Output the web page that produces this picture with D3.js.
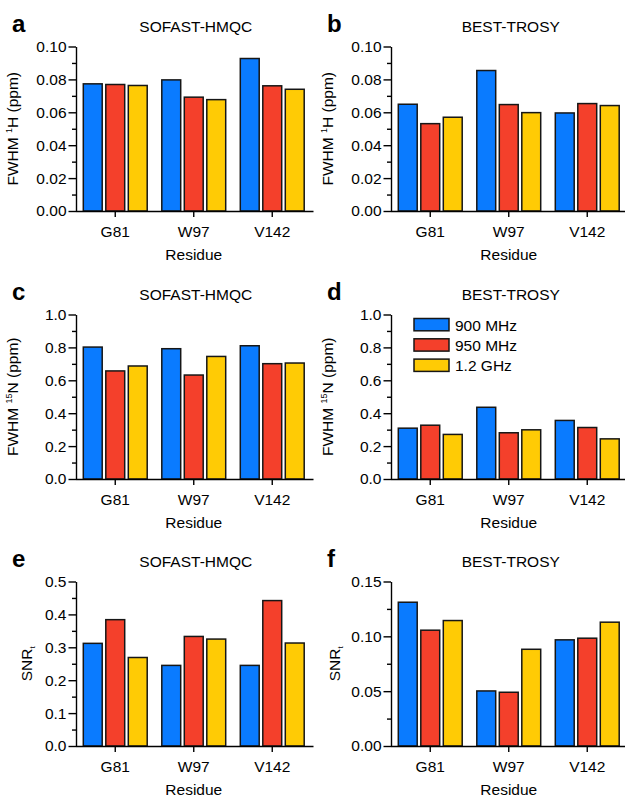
<!DOCTYPE html>
<html>
<head>
<meta charset="utf-8">
<script src="https://cdn.jsdelivr.net/npm/d3@7/dist/d3.min.js"></script>
<style>
  html, body { margin: 0; padding: 0; background: #fff; }
  svg { display: block; }
  text { font-family: "Liberation Sans", Arial, Helvetica, sans-serif; fill: #000; }
</style>
</head>
<body>
<svg id="chart" width="625" height="797"></svg>
<script>
// ---------------- DATA ----------------
const residues = ["G81", "W97", "V142"];
const fields = ["900 MHz", "950 MHz", "1.2 GHz"];

// values grouped by residue: [900 MHz, 950 MHz, 1.2 GHz]
const sofastFwhmH = [[0.0773, 0.0769, 0.0763], [0.0797, 0.0692, 0.0677], [0.0927, 0.0761, 0.0740]];
const bestFwhmH   = [[0.0649, 0.0531, 0.0570], [0.0854, 0.0647, 0.0598], [0.0596, 0.0653, 0.0641]];
const sofastFwhmN = [[0.802, 0.657, 0.687], [0.792, 0.632, 0.745], [0.810, 0.701, 0.705]];
const bestFwhmN   = [[0.309, 0.327, 0.271], [0.436, 0.281, 0.299], [0.356, 0.313, 0.244]];
const sofastSnr   = [[0.312, 0.384, 0.269], [0.245, 0.333, 0.325], [0.245, 0.442, 0.313]];
const bestSnr     = [[0.1311, 0.1056, 0.1144], [0.0502, 0.0490, 0.0882], [0.0968, 0.0983, 0.1129]];

const ticksFwhmH = [0, 0.02, 0.04, 0.06, 0.08, 0.10];
const minorFwhmH = [0.01, 0.03, 0.05, 0.07, 0.09];
const ticksFwhmN = [0, 0.2, 0.4, 0.6, 0.8, 1.0];
const minorFwhmN = [0.1, 0.3, 0.5, 0.7, 0.9];
const ticksSnrS  = [0, 0.1, 0.2, 0.3, 0.4, 0.5];
const minorSnrS  = [0.05, 0.15, 0.25, 0.35, 0.45];
const ticksSnrB  = [0, 0.05, 0.10, 0.15];
const minorSnrB  = [0.025, 0.075, 0.125];

const panelLetters = ["a", "b", "c", "d", "e", "f"];
const panelTitles = ["SOFAST-HMQC", "BEST-TROSY", "SOFAST-HMQC", "BEST-TROSY", "SOFAST-HMQC", "BEST-TROSY"];

// ---------------- STYLE ----------------
const colors = ["#0a7bff", "#f4402b", "#ffcb05"];
const FONT = 15.5;

const svg = d3.select("#chart");

const panels = [
  {data: sofastFwhmH, max: 0.10, ticks: ticksFwhmH, minor: minorFwhmH, fmt: ".2f", label: "H", col: 0, row: 0, labelDx: 58},
  {data: bestFwhmH,   max: 0.10, ticks: ticksFwhmH, minor: minorFwhmH, fmt: ".2f", label: "H", col: 1, row: 0, labelDx: 58},
  {data: sofastFwhmN, max: 1.0,  ticks: ticksFwhmN, minor: minorFwhmN, fmt: ".1f", label: "N", col: 0, row: 1, labelDx: 58},
  {data: bestFwhmN,   max: 1.0,  ticks: ticksFwhmN, minor: minorFwhmN, fmt: ".1f", label: "N", col: 1, row: 1, labelDx: 58, legend: true},
  {data: sofastSnr,   max: 0.5,  ticks: ticksSnrS,  minor: minorSnrS,  fmt: ".1f", label: "SNR", col: 0, row: 2, labelDx: 44},
  {data: bestSnr,     max: 0.15, ticks: ticksSnrB,  minor: minorSnrB,  fmt: ".2f", label: "SNR", col: 1, row: 2, labelDx: 51}
];

const axisX = [76, 391];
const zeroY = [211, 479, 746];
const plotH = 164.5;
const groupW = 235.5;

panels.forEach((p, i) => {
  const x0 = axisX[p.col];
  const y0 = zeroY[p.row];
  const g = svg.append("g").attr("transform", `translate(${x0},${y0 - plotH})`);

  const x = d3.scaleBand().domain(residues).range([0, groupW]).paddingInner(0).paddingOuter(0);
  const x1 = d3.scaleBand().domain(fields).range([-33.75, 33.75]).paddingInner(0.16).paddingOuter(0.08);
  const y = d3.scaleLinear().domain([0, p.max]).range([plotH, 0]);

  // bars
  const groups = g.selectAll("g.grp").data(residues).enter().append("g")
    .attr("class", "grp")
    .attr("transform", d => `translate(${x(d) + x.bandwidth() / 2},0)`);
  groups.selectAll("rect").data((d, ri) => p.data[ri].map((v, fi) => ({v, f: fields[fi], fi})))
    .enter().append("rect")
    .attr("x", d => x1(d.f))
    .attr("width", x1.bandwidth())
    .attr("y", d => y(d.v))
    .attr("height", d => y(0) - y(d.v))
    .attr("fill", d => colors[d.fi])
    .attr("stroke", "#161616")
    .attr("stroke-width", 1.5);

  // y axis
  const yAxis = g.append("g")
    .call(d3.axisLeft(y).tickValues(p.ticks).tickFormat(d3.format(p.fmt)).tickSizeInner(7.5).tickSizeOuter(0).tickPadding(2));
  yAxis.selectAll("text").style("font-size", FONT + "px").attr("fill", "#000");
  const yMinor = g.append("g")
    .call(d3.axisLeft(y).tickValues(p.minor).tickFormat("").tickSizeInner(4).tickSizeOuter(0));
  yMinor.select(".domain").remove();
  [yAxis, yMinor].forEach(a => {
    a.selectAll("line").attr("stroke", "#000").attr("stroke-width", 1.4);
    a.selectAll(".domain").attr("stroke", "#000").attr("stroke-width", 1.4);
  });

  // x axis
  const xAxis = g.append("g").attr("transform", `translate(0,${plotH})`)
    .call(d3.axisBottom(x).tickSizeInner(6).tickSizeOuter(0));
  xAxis.selectAll(".domain").attr("stroke", "#000").attr("stroke-width", 1.4).attr("d", `M0,0.5H${groupW + 2}`);
  xAxis.selectAll("line").attr("stroke", "#000").attr("stroke-width", 1.4);
  xAxis.selectAll("text").attr("y", 26.3).attr("dy", null).style("font-size", FONT + "px").attr("fill", "#000");

  // x title
  g.append("text").attr("x", groupW / 2).attr("y", plotH + 49)
    .attr("text-anchor", "middle").style("font-size", FONT + "px").text("Residue");

  // y title
  const yt = g.append("text")
    .attr("transform", `translate(${-p.labelDx},${plotH / 2}) rotate(-90)`)
    .attr("text-anchor", "middle").style("font-size", FONT + "px");
  if (p.label === "SNR") {
    yt.append("tspan").text("SNR");
    yt.append("tspan").attr("baseline-shift", "-3").style("font-size", "8px").text("t");
  } else if (p.label === "H") {
    yt.append("tspan").text("FWHM ");
    yt.append("tspan").attr("baseline-shift", "6").style("font-size", "9px").text("1");
    yt.append("tspan").text("H (ppm)");
  } else {
    yt.append("tspan").text("FWHM ");
    yt.append("tspan").attr("baseline-shift", "6").style("font-size", "9px").text("15");
    yt.append("tspan").text("N (ppm)");
  }

  // panel title
  g.append("text").attr("x", groupW / 2 + 2).attr("y", -14.5)
    .attr("text-anchor", "middle").style("font-size", FONT + "px").text(panelTitles[i]);

  // panel letter
  g.append("text").attr("x", -64).attr("y", -15)
    .style("font-size", "24px").style("font-weight", "bold").attr("fill", "#000").text(panelLetters[i]);

  // legend
  if (p.legend) {
    const lg = g.append("g").attr("transform", "translate(23,4)");
    const items = lg.selectAll("g").data(fields).enter().append("g")
      .attr("transform", (d, k) => `translate(0,${k * 20.3})`);
    items.append("rect").attr("width", 35).attr("height", 12.3)
      .attr("fill", (d, k) => colors[k]).attr("stroke", "#161616").attr("stroke-width", 1.5);
    items.append("text").attr("x", 41).attr("y", 6.5).attr("dy", "0.36em")
      .style("font-size", FONT + "px").text(d => d);
  }
});
</script>
</body>
</html>
